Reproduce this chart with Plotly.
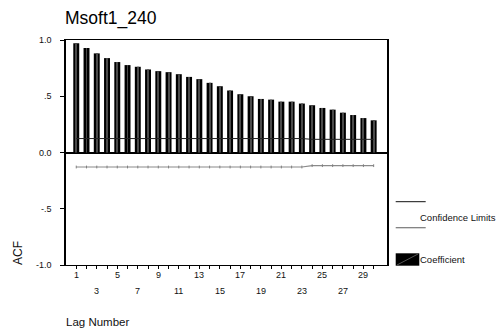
import plotly.graph_objects as go

# Autocorrelation function of Msoft1_240
lags = list(range(1, 31))
acf = [0.971, 0.929, 0.881, 0.839, 0.804, 0.777, 0.762, 0.738, 0.723, 0.714,
       0.696, 0.672, 0.652, 0.619, 0.589, 0.551, 0.518, 0.500, 0.476, 0.470,
       0.452, 0.452, 0.435, 0.420, 0.396, 0.381, 0.354, 0.333, 0.306, 0.286]
upper_limit = [0.124] * 23 + [0.117] * 7
lower_limit = [-0.129] * 23 + [-0.117] * 7

ytick_vals = [-1.0, -0.5, 0.0, 0.5, 1.0]
ytick_text = ["-1.0", "-.5", "0.0", ".5", "1.0"]
xlabels_row1 = [1, 5, 9, 13, 17, 21, 25, 29]
xlabels_row2 = [3, 7, 11, 15, 19, 23, 27]

FONT = "Liberation Sans, Arial, sans-serif"
W, H = 497, 328
ML, MR, MT, MB = 66, 110, 40, 63
PW, PH = W - ML - MR, H - MT - MB


def px(x):
    """Pixel column -> paper x."""
    return (x - ML) / PW


def py(y):
    """Pixel row -> paper y."""
    return (H - MB - y) / PH


fig = go.Figure()

fig.add_trace(go.Bar(x=lags, y=acf, width=0.58, marker=dict(color="#000000", line=dict(width=0)),
                     showlegend=False, hoverinfo="x+y"))
# thin highlight running down the middle of each bar
fig.add_trace(go.Bar(x=lags, y=acf, width=0.09, marker=dict(color="#4a4a4a", line=dict(width=0)),
                     showlegend=False, hoverinfo="skip"))

fig.add_trace(go.Scatter(x=lags, y=upper_limit, mode="lines",
                         line=dict(color="#222222", width=1), showlegend=False))
fig.add_trace(go.Scatter(x=lags, y=lower_limit, mode="lines+markers",
                         line=dict(color="#8a8a8a", width=1.2),
                         marker=dict(symbol="line-ns", size=2, line=dict(color="#808080", width=1)),
                         showlegend=False))

fig.update_layout(
    width=W, height=H,
    margin=dict(l=ML, r=MR, t=MT, b=MB),
    paper_bgcolor="white", plot_bgcolor="white",
    barmode="overlay",
    font=dict(family=FONT, size=9, color="#111111"),
    title=dict(text="Msoft1_240", x=65 / W, xanchor="left", xref="container",
               y=1 - 18 / H, yanchor="middle", yref="container",
               font=dict(size=17.5, family=FONT, color="#000000")),
)

fig.update_xaxes(
    range=[0, 31.3], showgrid=False, zeroline=False,
    showline=True, linecolor="#000000", linewidth=1.2, mirror=True,
    tickmode="array", tickvals=lags, ticktext=[""] * len(lags),
    ticks="outside", ticklen=3, tickcolor="#000000", tickwidth=1,
)
fig.update_yaxes(
    range=[-1, 1], showgrid=False,
    zeroline=True, zerolinecolor="#000000", zerolinewidth=1.5,
    showline=True, linecolor="#000000", linewidth=1.5, mirror=True,
    tickmode="array", tickvals=ytick_vals, ticktext=ytick_text,
    ticks="outside", ticklen=4, tickcolor="#000000", tickwidth=1,
    tickfont=dict(size=9), ticklabelstandoff=7,
)

ann = []
for v in xlabels_row1:
    ann.append(dict(x=v, y=0, xref="x", yref="paper", text=str(v), showarrow=False,
                    yanchor="middle", yshift=-10, font=dict(size=9)))
for v in xlabels_row2:
    ann.append(dict(x=v, y=0, xref="x", yref="paper", text=str(v), showarrow=False,
                    yanchor="middle", yshift=-26, font=dict(size=9)))

ann.append(dict(x=px(18), y=py(253), xref="paper", yref="paper", text="ACF",
                showarrow=False, textangle=-90, xanchor="center", yanchor="middle",
                font=dict(size=12)))
ann.append(dict(x=px(64), y=py(321.5), xref="paper", yref="paper", text="Lag Number",
                showarrow=False, xanchor="left", yanchor="middle", font=dict(size=11.5)))

# legend
ann.append(dict(x=px(418), y=py(217.7), xref="paper", yref="paper",
                text="Confidence Limits", showarrow=False, xanchor="left", yanchor="middle",
                font=dict(size=9.5)))
ann.append(dict(x=px(418), y=py(259), xref="paper", yref="paper",
                text="Coefficient", showarrow=False, xanchor="left", yanchor="middle",
                font=dict(size=9.5)))
fig.update_layout(annotations=ann)

shapes = [
    dict(type="line", xref="paper", yref="paper", x0=px(395.7), x1=px(425.7),
         y0=py(201.7), y1=py(201.7), line=dict(color="#111111", width=1)),
    dict(type="line", xref="paper", yref="paper", x0=px(395.7), x1=px(425.7),
         y0=py(227.7), y1=py(227.7), line=dict(color="#777777", width=1.2)),
    dict(type="rect", xref="paper", yref="paper", x0=px(395.7), x1=px(419.3),
         y0=py(265.7), y1=py(253.3), fillcolor="#000000", line=dict(width=0)),
    dict(type="line", xref="paper", yref="paper", x0=px(397), x1=px(418),
         y0=py(265), y1=py(254), line=dict(color="#555555", width=1)),
]
fig.update_layout(shapes=shapes)

fig.write_html("out.html")
